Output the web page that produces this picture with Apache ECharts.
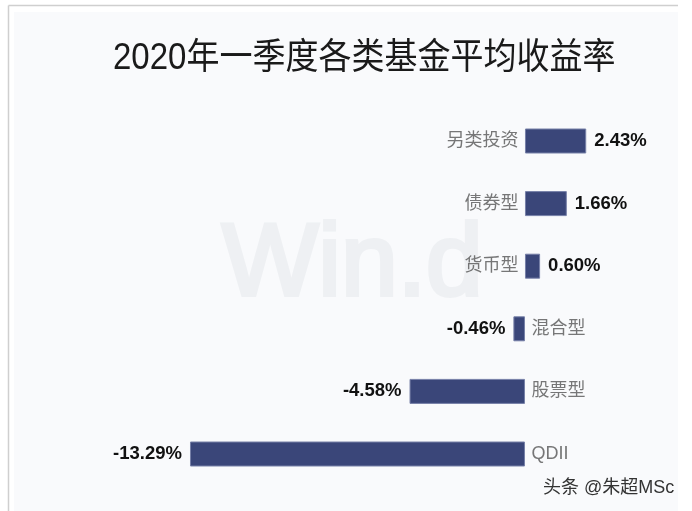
<!DOCTYPE html>
<html><head><meta charset="utf-8">
<script src="https://cdn.jsdelivr.net/npm/echarts@6/dist/echarts.min.js"></script>
<style>html,body{margin:0;padding:0;background:#fff}#c{width:692px;height:511px}</style>
</head><body><div id="c"></div>
<script>
var titleText = '2020年一季度各类基金平均收益率';
var categories = ['另类投资', '债券型', '货币型', '混合型', '股票型', 'QDII'];
var values = [2.43, 1.66, 0.60, -0.46, -4.58, -13.29];
var watermark = 'Win.d';
var credit = '头条 @朱超MSc';

var cjk = '"Liberation Sans", "Noto Sans CJK SC", sans-serif';
var chart = echarts.init(document.getElementById('c'), null, {renderer: 'canvas'});

var barData = values.map(function (v) {
  return {
    value: v,
    label: {position: v >= 0 ? 'right' : 'left'}
  };
});
var nameData = values.map(function (v, i) {
  return {
    value: [0, categories[i]],
    label: {position: v >= 0 ? 'left' : 'right'}
  };
});

chart.setOption({
  backgroundColor: '#ffffff',
  animation: false,
  graphic: [
    {type: 'line', shape: {x1: 8.5, y1: 5.5, x2: 678, y2: 5.5}, style: {stroke: '#cfcfcf', lineWidth: 1.5}, z: -10},
    {type: 'line', shape: {x1: 8.5, y1: 5.5, x2: 8.5, y2: 511}, style: {stroke: '#cfcfcf', lineWidth: 1.5}, z: -10},
    {type: 'rect', shape: {x: 14, y: 12, width: 664, height: 499}, style: {fill: '#f9fafc'}, z: -10},
    {type: 'text', x: 222, y: 216, z: -5,
      style: {text: watermark, fill: '#eef0f3', stroke: '#eef0f3', lineWidth: 4,
        font: 'normal 102px "Liberation Sans", sans-serif', textVerticalAlign: 'top'}},
    {type: 'text', x: 113, y: 59, scaleY: 1.1, originY: 0, z: 10,
      style: {text: titleText, fill: '#1a1a1a', font: 'normal 33px ' + cjk, textVerticalAlign: 'middle'}},
    {type: 'text', x: 543, y: 488, z: 10,
      style: {text: credit, fill: '#333333', font: 'normal 18px ' + cjk, textVerticalAlign: 'middle'}}
  ],
  grid: {left: 172.1, right: 66.2, top: 109.7, bottom: 25.7, containLabel: false},
  xAxis: {type: 'value', min: -14, max: 4, show: false, splitLine: {show: false}},
  yAxis: {type: 'category', data: categories, inverse: true, show: false},
  series: [
    {
      type: 'bar',
      data: barData,
      barWidth: 25,
      itemStyle: {color: '#3a4679', borderColor: '#7780a8', borderWidth: 1},
      label: {show: true, distance: 8, color: '#111', fontWeight: 'bold', fontSize: 18.5,
        fontFamily: '"Liberation Sans", Arial, sans-serif',
        formatter: function (p) { return p.value.toFixed(2) + '%'; }}
    },
    {
      type: 'scatter',
      data: nameData,
      symbolSize: 1,
      itemStyle: {color: 'rgba(0,0,0,0)'},
      label: {show: true, distance: 6, color: '#555555', fontSize: 18, fontFamily: cjk,
        formatter: function (p) { return p.value[1]; }},
      z: 5
    }
  ]
});
</script></body></html>
